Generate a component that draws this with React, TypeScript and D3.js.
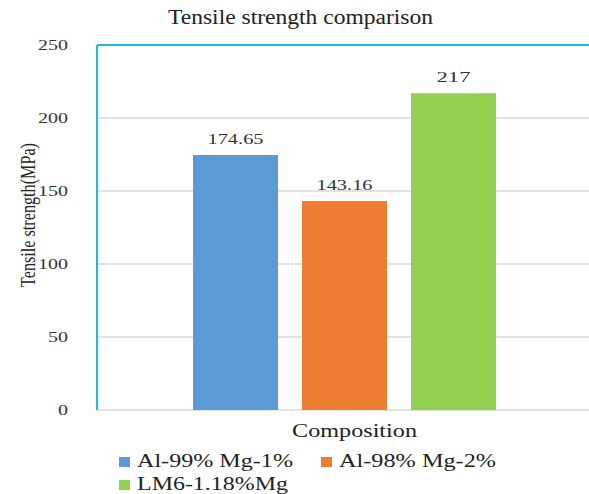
import React from "react";
import * as d3 from "d3";

const seriesNames = ["Al-99% Mg-1%", "Al-98% Mg-2%", "LM6-1.18%Mg"];
const seriesValues = [174.65, 143.16, 217];
const valueLabels = ["174.65", "143.16", "217"];
const seriesColors = ["#5B9BD5", "#ED7D31", "#92D050"];
const yTicks = [0, 50, 100, 150, 200, 250];

const W = 589;
const H = 494;
const plot = { left: 97, right: 592, top: 45, bottom: 410 };
const serif = "'Liberation Serif', 'Times New Roman', serif";

// Text in this chart is set wide; textLength keeps each string at its drawn width.
const stretch = { lengthAdjust: "spacingAndGlyphs" as const };

export default function App() {
  const y = d3.scaleLinear().domain([0, 250]).range([plot.bottom, plot.top]);
  const x = d3
    .scaleBand<string>()
    .domain(seriesNames)
    .range([193, 496])
    .paddingInner(0.22)
    .paddingOuter(0);

  const legendItems = [
    { x: 119, y: 462, w: 156 },
    { x: 321, y: 462, w: 157 },
    { x: 119, y: 485, w: 151 },
  ];

  return (
    <svg
      width={W}
      height={H}
      style={{ position: "absolute", left: 0, top: 0, background: "#fff" }}
      fontFamily={serif}
    >
      <text x={300.5} y={24} textAnchor="middle" fontSize={20} textLength={265} {...stretch} fill="#222">
        Tensile strength comparison
      </text>

      {yTicks.map((t) =>
        t > 0 && t < 250 ? (
          <line key={"g" + t} x1={plot.left} x2={plot.right} y1={y(t)} y2={y(t)} stroke="#D9D9D9" strokeWidth={1.3} />
        ) : null
      )}
      <line x1={plot.left} x2={plot.right} y1={y(0)} y2={y(0)} stroke="#D9D9D9" strokeWidth={1.5} />

      {yTicks.map((t) => (
        <text
          key={"t" + t}
          x={68}
          y={y(t)}
          dy="0.35em"
          textAnchor="end"
          fontSize={15}
          textLength={String(t).length * 10}
          {...stretch}
          fill="#333"
        >
          {t}
        </text>
      ))}

      {seriesNames.map((s, i) => (
        <rect
          key={s}
          x={x(s)}
          y={y(seriesValues[i])}
          width={x.bandwidth()}
          height={y(0) - y(seriesValues[i])}
          fill={seriesColors[i]}
        />
      ))}

      {seriesNames.map((s, i) => (
        <text
          key={"l" + s}
          x={(x(s) as number) + x.bandwidth() / 2}
          y={y(seriesValues[i]) - 11}
          textAnchor="middle"
          fontSize={15}
          textLength={valueLabels[i].length === 3 ? 34 : 56}
          {...stretch}
          fill="#333"
        >
          {valueLabels[i]}
        </text>
      ))}

      <line x1={plot.left} x2={plot.right} y1={plot.top} y2={plot.top} stroke="#1EB8EA" strokeWidth={2.2} />
      <line x1={plot.left} x2={plot.left} y1={plot.top} y2={plot.bottom} stroke="#1EB8EA" strokeWidth={2.2} />

      <text
        transform="translate(35,215) rotate(-90)"
        textAnchor="middle"
        fontSize={20}
        textLength={144}
        {...stretch}
        fill="#222"
      >
        Tensile strength(MPa)
      </text>

      <text x={354.5} y={437} textAnchor="middle" fontSize={18} textLength={125} {...stretch} fill="#222">
        Composition
      </text>

      {seriesNames.map((s, i) => (
        <g key={"lg" + s} transform={`translate(${legendItems[i].x},${legendItems[i].y})`}>
          <rect x={0} y={-5} width={11} height={10} fill={seriesColors[i]} />
          <text x={18} y={5} fontSize={18} textLength={legendItems[i].w} {...stretch} fill="#222">
            {s}
          </text>
        </g>
      ))}
    </svg>
  );
}
